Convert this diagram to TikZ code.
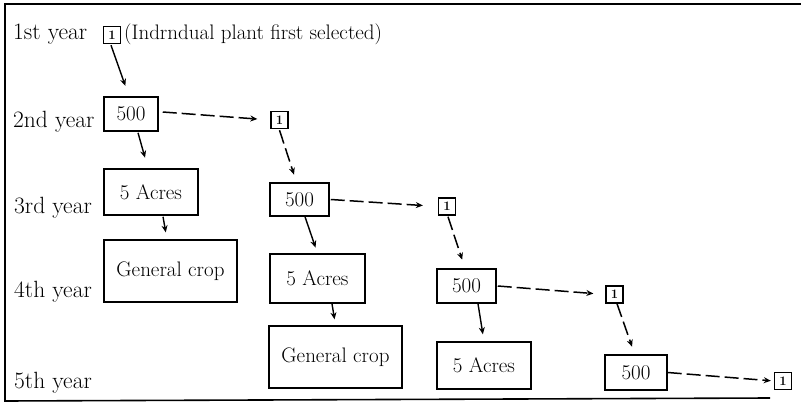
\documentclass[tikz,border=0pt]{standalone}
\usetikzlibrary{arrows.meta,calc}
\begin{document}
\begin{tikzpicture}[x=1pt,y=-1pt,
  yearlbl/.style={anchor=base west,inner sep=0pt,font=\fontsize{23.5}{28}\selectfont},
  notelbl/.style={anchor=base west,inner sep=0pt,font=\fontsize{21}{25}\selectfont},
  bigbox/.style={draw,line width=1.5pt,inner sep=0pt,font=\fontsize{21}{25}\selectfont},
  onebox/.style={draw,line width=1.4pt,inner sep=0pt,minimum width=17pt,minimum height=17pt,font=\fontsize{13}{15}\selectfont\bfseries},
  solidarr/.style={line width=1.4pt,-{Stealth[length=7pt,width=6pt]}},
  dasharr/.style={line width=1.5pt,dash pattern=on 14pt off 5pt,-{Stealth[length=7pt,width=6pt]}},
  framel/.style={line width=1.6pt}]
\useasboundingbox (0,0) rectangle (801,404);
% frame
\coordinate (ftl) at (5,4);
\coordinate (ftr) at (801,4);
\coordinate (fbl) at (5,401);
\coordinate (fbr) at (770,398);
\draw[framel] (ftr) -- (ftl) -- (fbl) -- (fbr);

% year labels
\node[yearlbl] (y1) at (13,40) {1st year};
\node[yearlbl] (y2) at (13,128) {2nd year};
\node[yearlbl] (y3) at (14,213) {3rd year};
\node[yearlbl] (y4) at (14,297) {4th year};
\node[yearlbl] (y5) at (14,388) {5th year};
\node[notelbl] (note) at (124,40) {(Indrndual plant first selected)};

% boxes
\node[onebox] (b1a) at (112,35) {1};
\node[bigbox,minimum width=54pt,minimum height=34pt] (p500a) at (131,114) {500};
\node[onebox] (b1b) at (279.5,120) {1};
\node[bigbox,minimum width=94pt,minimum height=46pt] (acra) at (151,192) {5 Acres};
\node[bigbox,minimum width=59pt,minimum height=33pt] (p500b) at (299.5,199.5) {500};
\node[bigbox,minimum width=133pt,minimum height=62pt] (gena) at (170.5,271) {General crop};
\node[onebox] (b1c) at (447,206.5) {1};
\node[bigbox,minimum width=95pt,minimum height=49pt] (acrb) at (317.5,278.5) {5 Acres};
\node[bigbox,minimum width=59pt,minimum height=34pt] (p500c) at (466.5,286) {500};
\node[bigbox,minimum width=133pt,minimum height=62pt] (genb) at (335.5,357) {General crop};
\node[bigbox,minimum width=94pt,minimum height=47pt] (acrc) at (484,365.5) {5 Acres};
\node[onebox] (b1d) at (614.5,294.5) {1};
\node[bigbox,minimum width=62pt,minimum height=35pt] (p500d) at (636,372.5) {500};
\node[onebox] (b1e) at (783,381) {1};

% connectors
\draw[solidarr,shorten >=11pt] ($(b1a.south)+(-1,1)$) -- ($(p500a.north)+(-2,0)$);
\draw[dasharr,shorten >=13pt] ($(p500a.east)+(4,-2)$) -- (b1b.west);
\draw[solidarr,shorten >=11pt] ($(p500a.south)+(7,1)$) -- ($(acra.north)+(-3,0)$);
\draw[dasharr,shorten >=8pt] ($(b1b.south)+(0,1)$) -- ($(p500b.north)+(-3,0)$);
\draw[solidarr,shorten >=7pt] ($(acra.south)+(12,1)$) -- ($(gena.north)+(-3.5,0)$);
\draw[solidarr,shorten >=6pt] ($(p500b.south)+(5.5,0)$) -- (acrb.north);
\draw[dasharr,shorten >=15pt] ($(p500b.east)+(1,0)$) -- (b1c.west);
\draw[solidarr,shorten >=6pt] ($(acrb.south)+(14.5,0)$) -- (genb.north);
\draw[dasharr,shorten >=9pt] ($(b1c.south)+(1,1)$) -- ($(p500c.north)+(-1.5,0)$);
\draw[solidarr,shorten >=7pt] ($(p500c.south)+(11.5,0)$) -- (acrc.north);
\draw[dasharr,shorten >=12pt] ($(p500c.east)+(1,0)$) -- (b1d.west);
\draw[dasharr,shorten >=8pt] ($(b1d.south)+(2.5,0)$) -- ($(p500d.north)+(-1.3,0)$);
\draw[dasharr,shorten >=3pt] (p500d.east) -- (b1e.west);
\end{tikzpicture}
\end{document}
